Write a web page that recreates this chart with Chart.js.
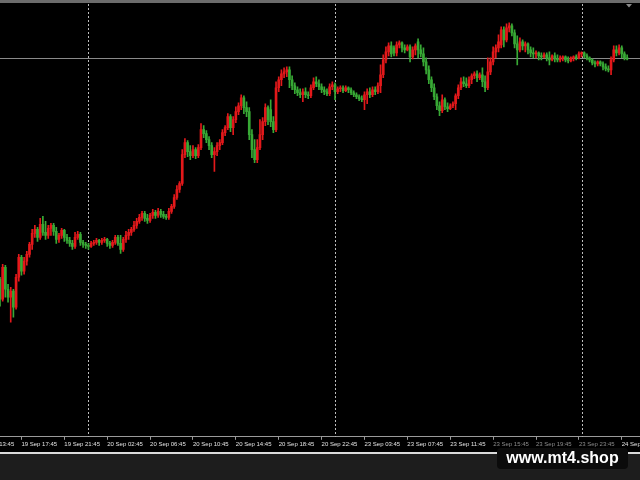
<!DOCTYPE html>
<html>
<head>
<meta charset="utf-8">
<title>M15 chart</title>
<script src="https://cdn.jsdelivr.net/npm/chart.js@4.4.1/dist/chart.umd.min.js"></script>
<style>
  html, body { margin: 0; padding: 0; background: #000; }
  canvas { display: block; }
</style>
</head>
<body>
<canvas id="chart" width="640" height="480"></canvas>
<script>
// M15 candles, oldest first (price in points)
const openPrices = [
  220,200,232,210,202,208,192,222,242,228,
  238,245,255,266,270,262,275,267,264,271,
  274,268,260,264,269,262,259,256,253,262,
  265,257,255,254,253,256,257,259,257,259,
  260,256,254,257,262,256,250,260,264,267,
  270,274,278,282,286,281,279,284,287,284,
  288,285,283,282,288,293,302,310,316,345,
  357,348,344,350,344,352,370,366,360,354,
  345,348,354,357,367,372,383,372,380,388,
  394,402,392,388,365,350,340,352,365,378,
  392,390,378,370,412,420,426,428,430,420,
  414,410,407,405,408,405,404,412,418,416,
  413,410,408,406,413,415,408,411,412,409,
  412,410,407,405,403,401,400,405,408,405,
  410,408,414,425,440,448,454,452,447,455,
  457,452,450,453,443,450,458,450,446,438,
  430,420,412,403,394,389,400,393,391,394,
  396,404,412,418,416,414,420,424,426,422,
  425,418,412,428,438,448,452,455,470,460,
  472,474,467,456,450,458,454,456,450,447,
  446,447,444,443,445,442,440,444,441,440,
  442,443,440,439,442,443,442,446,447,444,
  442,440,437,436,438,436,433,431,430,440,
  450,447,452,446,442
];
const highPrices = [
  222,235,234,215,212,210,225,245,244,242,
  248,257,270,274,272,281,283,278,274,276,
  276,272,266,271,270,265,262,259,267,268,
  267,259,257,256,258,259,261,260,261,262,
  261,258,259,264,264,264,262,268,270,272,
  278,281,285,288,288,285,286,290,289,291,
  290,288,285,291,295,305,314,318,350,361,
  359,354,354,352,355,376,374,369,363,357,
  352,357,360,370,374,386,385,383,393,397,
  405,404,398,392,370,360,360,380,382,396,
  394,400,383,418,423,430,432,433,433,424,
  417,413,411,411,412,408,415,422,423,420,
  416,413,411,416,418,417,413,414,414,414,
  413,412,409,407,405,404,408,411,412,413,
  413,417,435,445,453,457,458,454,458,459,
  458,455,455,455,453,456,461,455,452,442,
  434,423,416,406,398,405,402,397,396,398,
  406,415,422,423,422,423,426,428,429,427,
  432,424,442,442,453,455,465,473,473,476,
  477,476,470,464,462,460,458,457,453,452,
  449,448,447,447,447,448,445,447,445,444,
  444,444,443,443,444,445,448,448,448,446,
  443,441,439,439,439,438,436,434,443,454,
  454,455,454,448,445
];
const lowPrices = [
  193,198,202,197,177,182,190,218,224,225,
  234,242,250,262,258,260,264,260,261,264,
  264,256,257,261,258,256,253,250,251,260,
  254,252,251,250,252,254,255,254,255,257,
  253,251,252,255,254,246,248,257,260,264,
  268,271,276,279,278,276,277,281,281,282,
  282,281,280,280,286,291,300,307,314,342,
  343,340,342,341,342,350,362,357,350,342,
  328,344,350,355,364,370,368,365,377,385,
  390,386,383,360,342,337,337,350,360,374,
  375,373,367,368,408,414,422,423,412,410,
  406,404,402,398,402,401,402,410,413,410,
  407,405,404,404,410,400,406,408,407,408,
  407,405,403,401,399,398,390,396,402,403,
  405,406,407,422,437,444,443,444,444,452,
  448,447,449,438,441,445,442,443,434,426,
  416,408,400,390,384,387,390,388,390,392,
  390,401,410,413,412,412,416,421,418,420,
  413,408,410,425,435,442,448,452,453,458,
  468,464,452,435,448,450,448,446,443,442,
  442,440,440,442,439,435,439,438,438,438,
  439,438,437,438,439,440,441,443,442,440,
  438,435,433,434,434,430,429,428,425,438,
  444,445,442,440,440
];
const closePrices = [
  200,232,210,202,208,192,222,242,228,238,
  245,255,266,270,262,275,267,264,271,274,
  268,260,264,269,262,259,256,253,262,265,
  257,255,254,253,256,257,259,257,259,260,
  256,254,257,262,256,250,260,264,267,270,
  274,278,282,286,281,279,284,287,284,288,
  285,283,282,288,293,302,310,316,345,357,
  348,344,350,344,352,370,366,360,354,345,
  348,354,357,367,372,383,372,380,388,394,
  402,392,388,365,350,340,352,365,378,392,
  380,378,370,412,420,426,428,430,420,414,
  410,407,405,408,405,404,412,418,416,413,
  410,408,406,413,415,408,411,412,409,412,
  410,407,405,403,401,400,405,408,405,410,
  408,414,425,440,448,454,446,447,455,457,
  452,450,453,443,450,454,450,446,438,430,
  420,412,403,394,389,400,393,391,394,396,
  404,412,418,416,414,420,424,426,422,425,
  418,412,428,438,448,452,458,470,460,472,
  474,467,456,450,458,454,456,450,447,446,
  447,444,443,445,442,440,444,441,440,442,
  443,440,439,442,443,442,446,447,444,442,
  440,437,436,438,436,433,431,430,440,450,
  447,452,446,442,441
];

// time scale labels, one every 16 bars
const tickLabels = [
  '19 Sep 13:45', '19 Sep 17:45', '19 Sep 21:45', '20 Sep 02:45',
  '20 Sep 06:45', '20 Sep 10:45', '20 Sep 14:45', '20 Sep 18:45',
  '20 Sep 22:45', '23 Sep 03:45', '23 Sep 07:45', '23 Sep 11:45',
  '23 Sep 15:45', '23 Sep 19:45', '23 Sep 23:45', '24 Sep 03:45'
];
const firstTickBar = -8;
const tickStep = 16;

// day separators and the horizontal level
const separatorBars = [33, 125, 217];
const levelLine = 442;

const UP = '#e3191b';
const DOWN = '#38a935';

const bars = closePrices.map((c, i) => i);
const colors = bars.map(i => closePrices[i] >= openPrices[i] ? UP : DOWN);

const mt4Frame = {
  id: 'mt4Frame',
  beforeDraw(chart) {
    const { ctx, width, height } = chart;
    ctx.save();
    ctx.fillStyle = '#000';
    ctx.fillRect(0, 0, width, height);
    ctx.fillStyle = '#1d1d1d';
    ctx.fillRect(0, 453, width, height - 453);
    ctx.fillStyle = '#dadada';
    ctx.fillRect(0, 452, width, 2);
    ctx.fillStyle = '#6c6c6c';
    ctx.fillRect(0, 0, width, 3);
    ctx.restore();
  },
  beforeDatasetsDraw(chart) {
    const { ctx, chartArea, scales: { x, y } } = chart;
    ctx.save();
    ctx.lineWidth = 1;
    ctx.strokeStyle = '#bdbdbd';
    ctx.setLineDash([2, 2]);
    separatorBars.forEach(b => {
      const px = Math.round(x.getPixelForValue(b)) + 0.5;
      ctx.beginPath();
      ctx.moveTo(px, 4);
      ctx.lineTo(px, chartArea.bottom);
      ctx.stroke();
    });
    ctx.setLineDash([]);
    ctx.strokeStyle = '#8a8a8a';
    const py = Math.round(y.getPixelForValue(levelLine)) + 0.5;
    ctx.beginPath();
    ctx.moveTo(0, py);
    ctx.lineTo(chart.width, py);
    ctx.stroke();
    ctx.restore();
  },
  afterDraw(chart) {
    const ctx = chart.ctx;
    ctx.save();
    // shift marker
    ctx.fillStyle = '#8a8a8a';
    ctx.beginPath();
    ctx.moveTo(626, 4);
    ctx.lineTo(632, 4);
    ctx.lineTo(629, 7.5);
    ctx.closePath();
    ctx.fill();
    // watermark
    ctx.fillStyle = '#0b0b0b';
    ctx.beginPath();
    ctx.roundRect(497, 448, 131, 21, 4);
    ctx.fill();
    ctx.fillStyle = '#ffffff';
    ctx.font = 'bold 16px "Liberation Sans", Arial, sans-serif';
    ctx.textAlign = 'center';
    ctx.textBaseline = 'middle';
    ctx.fillText('www.mt4.shop', 562.5, 458.5);
    ctx.restore();
  }
};

new Chart(document.getElementById('chart'), {
  type: 'bar',
  data: {
    datasets: [
      {
        label: 'wick',
        data: bars.map(i => ({ x: i, y: [lowPrices[i], highPrices[i]] })),
        backgroundColor: colors,
        barThickness: 1,
        grouped: false
      },
      {
        label: 'body',
        data: bars.map(i => ({ x: i, y: [openPrices[i], closePrices[i]] })),
        backgroundColor: colors,
        barThickness: 2,
        grouped: false
      }
    ]
  },
  options: {
    responsive: false,
    animation: false,
    devicePixelRatio: 1,
    events: [],
    layout: { autoPadding: false, padding: { left: 0, right: 0, top: 0, bottom: 31 } },
    plugins: { legend: { display: false }, tooltip: { enabled: false } },
    scales: {
      x: {
        type: 'linear',
        min: 0,
        max: 238.8,
        bounds: 'data',
        offset: false,
        afterBuildTicks: scale => {
          scale.ticks = tickLabels.map((t, i) => ({ value: firstTickBar + i * tickStep }));
        },
        afterFit: scale => {
          // labels may run past the edges, like the terminal does
          scale.paddingLeft = 0;
          scale.paddingRight = 0;
        },
        grid: { display: true, offset: false, drawOnChartArea: false, drawTicks: true, tickLength: 3, color: '#9a9a9a' },
        border: { display: true, color: '#9a9a9a', width: 1 },
        ticks: {
          autoSkip: false,
          maxRotation: 0,
          minRotation: 0,
          align: 'start',
          padding: 1,
          font: { family: 'Liberation Sans', size: 6 },
          color: c => (c.index >= 12 && c.index <= 14) ? '#8c8c8c' : '#e2e2e2',
          callback: (v, i) => tickLabels[i]
        }
      },
      y: {
        display: false,
        min: 62,
        max: 500
      }
    }
  },
  plugins: [mt4Frame]
});
</script>
</body>
</html>
